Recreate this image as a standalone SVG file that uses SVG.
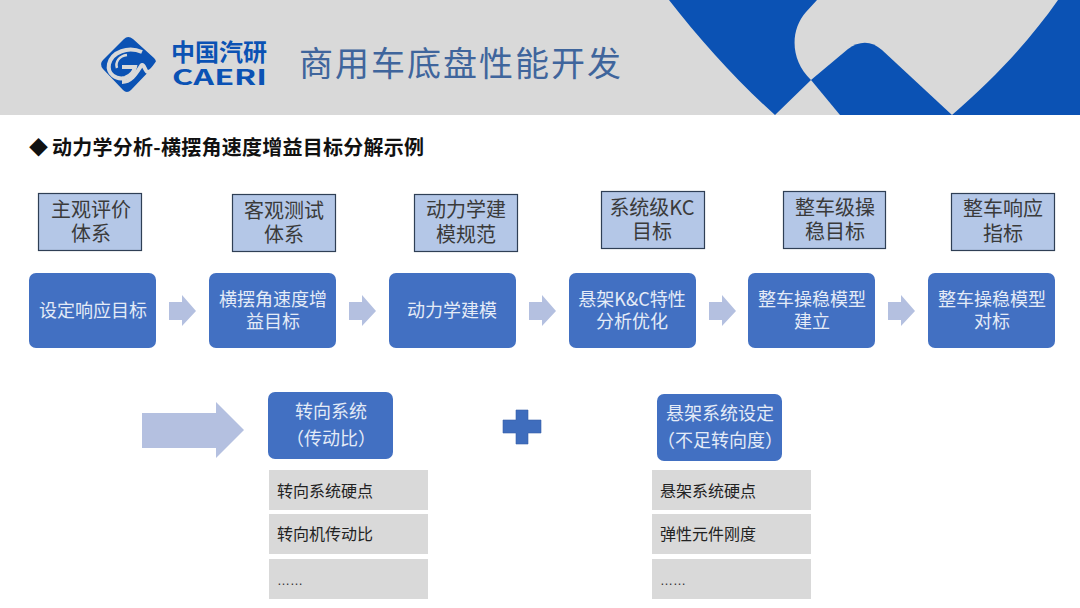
<svg xmlns="http://www.w3.org/2000/svg" width="1080" height="608" viewBox="0 0 1080 608">
<style>
text{font-family:"Noto Sans CJK SC","Liberation Sans",sans-serif}
.tag{fill:#b4c7e7;stroke:#2f3f55;stroke-width:1.2}
.tagt{font-size:20px;fill:#3a3a3a;text-anchor:middle}
.step{fill:#4270c2}
.stept{font-size:18px;fill:#e4ebf7;text-anchor:middle}
.arr{fill:#b4c0e0}
.row{fill:#d9d9d9}
.rowt{font-size:16px;fill:#222}
.dots{font-family:"Liberation Sans",sans-serif;font-size:13px;fill:#333}
</style>
<rect width="1080" height="115" fill="#d9d9d9"/>
<rect y="115" width="1080" height="493" fill="#fff"/>
<g id="banner" fill="#0b52b4">
<path d="M669 0H817L806 12C790 30 790 60 811 80L775 115C738 82 700 40 669 0Z"/>
<path d="M811 80L848 49C860 40 872 41 882 50L952 115H840Z"/>
<path d="M952 115C995 78 1030 40 1058 0H1080V115Z"/>
</g>
<g id="logo">
<path d="M124 39Q128 35 133 39L154 58Q158 62 154 66L131 90Q127 94 123 90L103 69Q99 64 103 60Z" fill="#0b52b4"/>
<path d="M142 52C128 46 112 52 109 64C107 74 116 80 125 78C131 76 134 72 135 67L122 67" fill="none" stroke="#d9d9d9" stroke-width="4"/>
<path d="M127 55C119 56 115 62 117 68" fill="none" stroke="#d9d9d9" stroke-width="2.500"/>
<path d="M122 82C132 82 137 72 141 66C144 62 145 72 148 72C152 72 155 66 158 62" fill="none" stroke="#d9d9d9" stroke-width="4"/>
<text x="171" y="61" font-size="24" font-weight="700" fill="#0b52b4">中国汽研</text>
<text x="172" y="85" font-size="21" font-weight="700" fill="#0b52b4" font-family="Liberation Sans" textLength="95" lengthAdjust="spacingAndGlyphs">CAERI</text>
</g>
<text id="title" x="299" y="76" font-size="34" fill="#3f659c" textLength="322">商用车底盘性能开发</text>
<g id="heading" fill="#111" font-weight="700">
<text x="29" y="155" font-size="19">◆</text>
<text x="52" y="155" font-size="20" textLength="372">动力学分析-横摆角速度增益目标分解示例</text>
</g>
<g id="connectors" class="arr">
<path d="M169 302H182V295L196 311L182 326V320H169Z"/>
<path d="M349 302H362V295L376 311L362 326V320H349Z"/>
<path d="M529 302H542V295L556 311L542 326V320H529Z"/>
<path d="M709 302H722V295L736 311L722 326V320H709Z"/>
<path d="M888 302H901V295L915 311L901 326V320H888Z"/>
<path d="M142 413H216V402L244 430L216 458V448H142Z"/>
</g>
<g id="tag1"><rect class="tag" x="38.500" y="193.500" width="103" height="57"/><text class="tagt" x="91" y="217">主观评价</text><text class="tagt" x="91" y="241">体系</text></g>
<g id="tag2"><rect class="tag" x="232.500" y="194.500" width="103" height="57"/><text class="tagt" x="284" y="218">客观测试</text><text class="tagt" x="284" y="242">体系</text></g>
<g id="tag3"><rect class="tag" x="414.500" y="194.500" width="103" height="57"/><text class="tagt" x="466" y="217">动力学建</text><text class="tagt" x="466" y="242">模规范</text></g>
<g id="tag4"><rect class="tag" x="601.500" y="191.500" width="103" height="57"/><text class="tagt" x="652" y="215">系统级KC</text><text class="tagt" x="652" y="239">目标</text></g>
<g id="tag5"><rect class="tag" x="783.500" y="191.500" width="102" height="57"/><text class="tagt" x="835" y="215">整车级操</text><text class="tagt" x="835" y="239">稳目标</text></g>
<g id="tag6"><rect class="tag" x="951.500" y="193.500" width="103" height="57"/><text class="tagt" x="1003" y="216">整车响应</text><text class="tagt" x="1003" y="241">指标</text></g>
<g id="step1"><rect class="step" x="29" y="273" width="127" height="75" rx="7"/><text class="stept" x="93" y="317">设定响应目标</text></g>
<g id="step2"><rect class="step" x="209" y="273" width="127" height="75" rx="7"/><text class="stept" x="273" y="306">横摆角速度增</text><text class="stept" x="273" y="328">益目标</text></g>
<g id="step3"><rect class="step" x="389" y="273" width="127" height="75" rx="7"/><text class="stept" x="452" y="317">动力学建模</text></g>
<g id="step4"><rect class="step" x="569" y="273" width="127" height="75" rx="7"/><text class="stept" x="632" y="306">悬架K&amp;C特性</text><text class="stept" x="632" y="328">分析优化</text></g>
<g id="step5"><rect class="step" x="748" y="273" width="127" height="75" rx="7"/><text class="stept" x="812" y="306">整车操稳模型</text><text class="stept" x="812" y="328">建立</text></g>
<g id="step6"><rect class="step" x="928" y="273" width="127" height="75" rx="7"/><text class="stept" x="992" y="306">整车操稳模型</text><text class="stept" x="992" y="328">对标</text></g>
<g id="steering"><rect class="step" x="268" y="392" width="125" height="67" rx="7"/><text class="stept" x="331" y="418">转向系统</text><text class="stept" x="331" y="445">（传动比）</text></g>
<g id="suspension"><rect class="step" x="657" y="394" width="125" height="67" rx="7"/><text class="stept" x="720" y="420">悬架系统设定</text><text class="stept" x="720" y="447">（不足转向度）</text></g>
<path id="plus" d="M516 410H528V420H541V433H528V444H516V433H503V420H516Z" fill="#3f6dbd" stroke="#3560a8" stroke-width="0.6"/>
<g id="steering-items">
<rect class="row" x="269" y="470" width="159" height="40"/><text class="rowt" x="277" y="497">转向系统硬点</text>
<rect class="row" x="269" y="514" width="159" height="40"/><text class="rowt" x="277" y="540">转向机传动比</text>
<rect class="row" x="269" y="559" width="159" height="40"/><text class="dots" x="277" y="585">……</text>
</g>
<g id="suspension-items">
<rect class="row" x="652" y="470" width="159" height="40"/><text class="rowt" x="660" y="497">悬架系统硬点</text>
<rect class="row" x="652" y="514" width="159" height="40"/><text class="rowt" x="660" y="540">弹性元件刚度</text>
<rect class="row" x="652" y="559" width="159" height="40"/><text class="dots" x="660" y="585">……</text>
</g>
</svg>
